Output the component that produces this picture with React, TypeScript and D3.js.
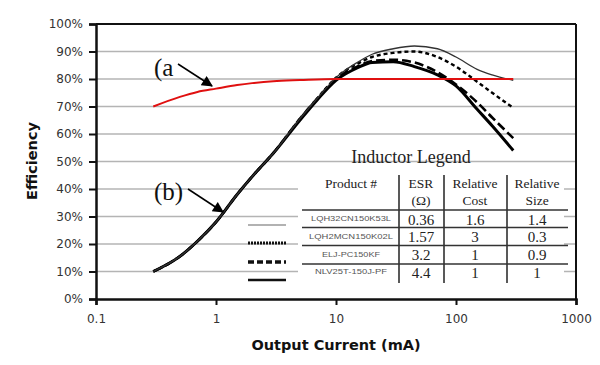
import React, { useEffect, useRef } from 'react';
import * as d3 from 'd3';

// shared current points (mA)
const currents = [0.3, 0.5, 0.7, 1, 1.5, 2, 3, 5, 7, 10, 15, 20, 30, 45, 70, 100, 150, 200, 300];

// efficiency (%) per inductor
const lqh32 = [10, 15.5, 21, 28, 38, 44.5, 53, 65.5, 73, 80.5, 86, 89, 91, 92, 91, 88, 83.5, 81.5, 79.5];
const lqh2m = [10, 15.5, 21, 28, 38, 44.5, 53, 65.5, 73, 80.5, 85.5, 88, 89.5, 90, 88, 84.5, 79, 75, 69.5];
const elj = [10, 15.5, 21, 28, 38, 44.5, 53, 65.5, 73, 80, 84.5, 86.5, 87, 86, 82.5, 78, 71.5, 66, 58.5];
const nlv = [10, 15.5, 21, 28, 38, 44.5, 53, 65, 72.5, 79.5, 84, 86, 86.3, 84.5, 81.5, 77.5, 69, 63, 54];

// curve (a)
const redCurrents = [0.3, 0.5, 0.7, 1, 1.5, 2, 3, 5, 10, 30, 100, 300];
const redEff = [70, 73.5, 75.3, 76.5, 77.8, 78.5, 79.2, 79.6, 80, 80, 80, 80];

const xTicks = [0.1, 1, 10, 100, 1000];
const yTicks = [0, 10, 20, 30, 40, 50, 60, 70, 80, 90, 100];

// legend table
const products = ['LQH32CN150K53L', 'LQH2MCN150K02L', 'ELJ-PC150KF', 'NLV25T-150J-PF'];
const esr = ['0.36', '1.57', '3.2', '4.4'];
const relCost = ['1.6', '3', '1', '1'];
const relSize = ['1.4', '0.3', '0.9', '1'];

const App = () => {
  const ref = useRef(null);

  useEffect(() => {
    const svg = d3.select(ref.current);
    svg.selectAll('*').remove();

    const left = 96, right = 576, top = 24, bottom = 299;
    const x = d3.scaleLog().domain([0.1, 1000]).range([left, right]);
    const y = d3.scaleLinear().domain([0, 100]).range([bottom, top]);
    const sans = '"DejaVu Sans", Verdana, sans-serif';
    const serif = '"Liberation Serif", "Times New Roman", serif';

    svg.append('rect').attr('width', 600).attr('height', 365).attr('fill', '#fff');

    // gridlines
    svg.append('g').selectAll('line').data(yTicks.slice(1, -1)).enter().append('line')
      .attr('x1', left).attr('x2', right)
      .attr('y1', d => y(d)).attr('y2', d => y(d))
      .attr('stroke', '#b4b4b4').attr('stroke-width', 1.5);

    // frame
    svg.append('line').attr('x1', left).attr('x2', right).attr('y1', top).attr('y2', top)
      .attr('stroke', '#111').attr('stroke-width', 2);
    svg.append('line').attr('x1', right).attr('x2', right).attr('y1', top).attr('y2', bottom)
      .attr('stroke', '#111').attr('stroke-width', 2);

    // axes
    const yAxis = svg.append('g').attr('transform', `translate(${left},0)`)
      .call(d3.axisLeft(y).tickValues(yTicks).tickFormat(d => `${d}%`).tickSize(7).tickPadding(6));
    const xAxis = svg.append('g').attr('transform', `translate(0,${bottom})`)
      .call(d3.axisBottom(x).tickValues(xTicks).tickFormat(d => `${d}`).tickSize(6).tickPadding(9));
    [yAxis, xAxis].forEach(a => {
      a.select('.domain').attr('stroke', '#111').attr('stroke-width', 2.5);
      a.selectAll('.tick line').attr('stroke', '#111').attr('stroke-width', 2);
      a.selectAll('.tick text').attr('font-family', sans)
        .attr('font-size', 12).attr('fill', '#333');
    });

    // curves
    const line = d3.line()
      .x(d => x(d[0])).y(d => y(d[1]))
      .curve(d3.curveMonotoneX);

    const series = [
      { vals: nlv, w: 3, dash: null, col: '#000' },
      { vals: elj, w: 2.6, dash: '9,4', col: '#000' },
      { vals: lqh2m, w: 2.4, dash: '4,3', col: '#000' },
      { vals: lqh32, w: 1.3, dash: null, col: '#333' },
    ];
    series.forEach(s => {
      svg.append('path')
        .attr('d', line(currents.map((c, i) => [c, s.vals[i]])))
        .attr('fill', 'none').attr('stroke', s.col).attr('stroke-width', s.w)
        .attr('stroke-dasharray', s.dash);
    });

    svg.append('path')
      .attr('d', line(redCurrents.map((c, i) => [c, redEff[i]])))
      .attr('fill', 'none').attr('stroke', '#e01010').attr('stroke-width', 2);

    // annotations
    svg.append('defs').append('marker').attr('id', 'arr').attr('viewBox', '0 0 10 10')
      .attr('refX', 9).attr('refY', 5).attr('markerWidth', 13).attr('markerHeight', 11)
      .attr('orient', 'auto').attr('markerUnits', 'userSpaceOnUse')
      .append('path').attr('d', 'M0,0 L10,5 L0,10 z').attr('fill', '#000');

    svg.append('text').attr('x', 154).attr('y', 76).text('(a')
      .attr('font-family', serif).attr('font-size', 25).attr('fill', '#111');
    svg.append('line').attr('x1', 178).attr('y1', 64).attr('x2', 212).attr('y2', 86)
      .attr('stroke', '#000').attr('stroke-width', 1.5).attr('marker-end', 'url(#arr)');
    svg.append('text').attr('x', 154).attr('y', 200).text('(b)')
      .attr('font-family', serif).attr('font-size', 25).attr('fill', '#111');
    svg.append('line').attr('x1', 188).attr('y1', 189).attr('x2', 223).attr('y2', 212)
      .attr('stroke', '#000').attr('stroke-width', 1.5).attr('marker-end', 'url(#arr)');

    // axis titles
    svg.append('text').attr('x', 336).attr('y', 350).attr('text-anchor', 'middle')
      .attr('font-family', sans).attr('font-weight', 'bold')
      .attr('font-size', 14.5).attr('fill', '#111').text('Output Current (mA)');
    svg.append('text').attr('transform', 'translate(37,161) rotate(-90)').attr('text-anchor', 'middle')
      .attr('font-family', sans).attr('font-weight', 'bold')
      .attr('font-size', 14.5).attr('fill', '#111').text('Efficiency');

    // legend table
    const lg = svg.append('g');
    lg.append('rect').attr('x', 298).attr('y', 168).attr('width', 266).attr('height', 116).attr('fill', '#fff');
    lg.append('text').attr('x', 411).attr('y', 163).attr('text-anchor', 'middle')
      .attr('font-family', serif).attr('font-size', 18).attr('fill', '#222').text('Inductor Legend');

    const colX = [302, 399, 444, 507, 566];
    colX.slice(1, -1).forEach(cx => {
      lg.append('line').attr('x1', cx).attr('x2', cx).attr('y1', 175).attr('y2', 283)
        .attr('stroke', '#222').attr('stroke-width', 1.5);
    });
    const rowLines = [210, 227.5, 245.5, 264];
    rowLines.forEach(ry => {
      lg.append('line').attr('x1', colX[0]).attr('x2', 568).attr('y1', ry).attr('y2', ry)
        .attr('stroke', '#333').attr('stroke-width', 1.5);
    });

    const hdr = (tx, ty, s) => lg.append('text').attr('x', tx).attr('y', ty).attr('text-anchor', 'middle')
      .attr('font-family', serif).attr('font-size', 13.5).attr('fill', '#222').text(s);
    hdr(351, 188, 'Product #');
    hdr(421, 188, 'ESR');
    hdr(421, 205, '(\u03a9)');
    hdr(475, 188, 'Relative');
    hdr(475, 205, 'Cost');
    hdr(537, 188, 'Relative');
    hdr(537, 205, 'Size');

    const rowBase = [224.5, 242, 260, 277.5];
    const pWidth = [80, 84, 58, 72];
    products.forEach((p, i) => {
      lg.append('text').attr('x', 351).attr('y', rowBase[i] - 3.5).attr('text-anchor', 'middle')
        .attr('font-family', '"Liberation Sans", Arial, sans-serif').attr('font-size', 8)
        .attr('textLength', pWidth[i]).attr('lengthAdjust', 'spacingAndGlyphs')
        .attr('fill', '#555').text(p);
      [esr[i], relCost[i], relSize[i]].forEach((v, j) => {
        lg.append('text').attr('x', [421, 475, 537][j]).attr('y', rowBase[i]).attr('text-anchor', 'middle')
          .attr('font-family', serif).attr('font-size', 15).attr('fill', '#222').text(v);
      });
    });

    // legend line samples
    const samples = [
      { yy: 225, w: 1.5, dash: null, col: '#999' },
      { yy: 243, w: 3, dash: '2,1', col: '#111' },
      { yy: 262, w: 3.5, dash: '6,3', col: '#111' },
      { yy: 280, w: 2.5, dash: null, col: '#111' },
    ];
    samples.forEach(s => {
      svg.append('line').attr('x1', 248).attr('x2', 286).attr('y1', s.yy).attr('y2', s.yy)
        .attr('stroke', s.col).attr('stroke-width', s.w).attr('stroke-dasharray', s.dash);
    });
  }, []);

  return (
    <svg ref={ref} width={600} height={365}
      style={{ position: 'absolute', left: 0, top: 0, display: 'block' }}></svg>
  );
};

export default App;
